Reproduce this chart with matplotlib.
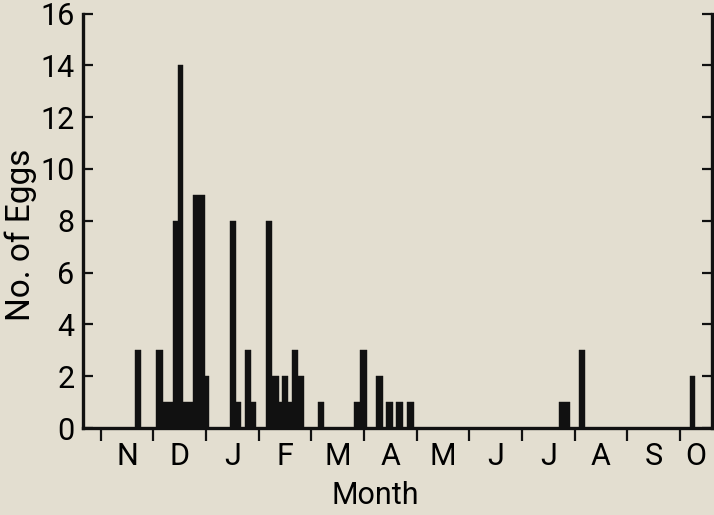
import numpy as np
import matplotlib
matplotlib.use("Agg")
import matplotlib.pyplot as plt
from matplotlib.ticker import FixedLocator, NullFormatter

# month initials, season runs November -> October
months = ["N", "D", "J", "F", "M", "A", "M", "J", "J", "A", "S", "O"]

# sampling intervals, in months since 1 November (start, end) and eggs found
bar_start = [0.65, 1.05, 1.18, 1.37, 1.46, 1.57, 1.76, 1.98,
             2.46, 2.57, 2.74, 2.86,
             3.14, 3.26, 3.38, 3.45, 3.55, 3.63, 3.75,
             4.13, 4.81, 4.92, 5.23, 5.42, 5.61, 5.82,
             8.71, 9.09, 11.19]
bar_end = [0.76, 1.18, 1.37, 1.46, 1.57, 1.76, 1.98, 2.05,
           2.57, 2.66, 2.86, 2.95,
           3.26, 3.38, 3.45, 3.55, 3.63, 3.75, 3.86,
           4.24, 4.92, 5.06, 5.36, 5.55, 5.74, 5.95,
           8.91, 9.20, 11.29]
eggs = [3, 3, 1, 8, 14, 1, 9, 2,
        8, 1, 3, 1,
        8, 2, 1, 2, 1, 3, 2,
        1, 1, 3, 2, 1, 1, 1,
        1, 3, 2]

bg = "#e3ded0"
ink = "#111111"

plt.rcParams["font.family"] = ["Roboto", "DejaVu Sans"]
plt.rcParams["font.size"] = 22

fig = plt.figure(figsize=(7.14, 5.15), dpi=100, facecolor=bg)
ax = fig.add_axes([83 / 714, 1 - 428 / 515, (712 - 83) / 714, (428 - 13.5) / 515])
ax.set_facecolor(bg)

x0 = np.array(bar_start)
w = np.array(bar_end) - x0
ax.bar(x0, eggs, width=w, align="edge", color=ink, edgecolor=ink, linewidth=0.3)

xmin, xmax = -0.336, 11.61
ax.set_xlim(xmin, xmax)
ax.set_ylim(0, 16)

for s in ["left", "right", "bottom"]:
    ax.spines[s].set_linewidth(2.4)
    ax.spines[s].set_color(ink)
ax.spines["top"].set_visible(False)

ax.set_yticks(np.arange(0, 17, 2))
ax.tick_params(axis="y", direction="in", length=7, width=1.6, color=ink,
               left=True, right=True, labelleft=True, labelright=False, pad=6)

# month boundaries as ticks, initials centred in the visible part of each month
edges = np.arange(0, 12)
centers = [(k + min(k + 1, xmax)) / 2 for k in edges]
ax.xaxis.set_major_locator(FixedLocator(edges))
ax.xaxis.set_major_formatter(NullFormatter())
ax.xaxis.set_minor_locator(FixedLocator(centers))
ax.set_xticklabels(months, minor=True)
ax.tick_params(axis="x", which="major", direction="out", length=9.5, width=1.6, color=ink)
ax.tick_params(axis="x", which="minor", length=0, pad=10)

ax.set_xlabel("Month", va="center", fontsize=22)
ax.set_ylabel("No. of Eggs", va="center", fontsize=24)
ax.xaxis.set_label_coords((375 - 83) / 629, -(496 - 428) / 414.5)
ax.yaxis.set_label_coords(-(83 - 21) / 629, (428 - 235) / 414.5)

fig.savefig("out.png", dpi=100, facecolor=bg)
